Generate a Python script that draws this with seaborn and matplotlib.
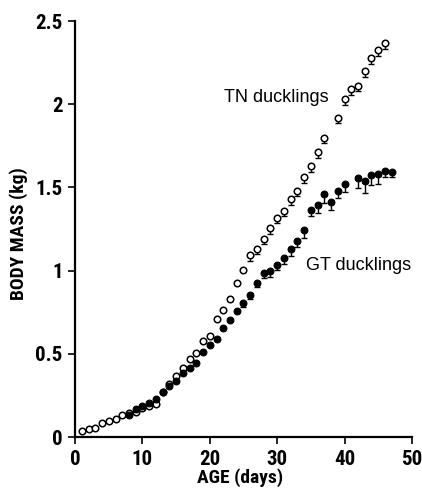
import numpy as np
import pandas as pd
import matplotlib
matplotlib.use("Agg")
import matplotlib.pyplot as plt
from matplotlib import font_manager
import seaborn as sns

# ---- data ----
tn_age = [1, 2, 3, 4, 5, 6, 7, 8, 9, 10, 11, 12, 13, 14, 15, 16, 17, 18, 19, 20,
          21, 22, 23, 24, 25, 26, 27, 28, 29, 30, 31, 32, 33, 34, 35, 36, 37, 39,
          40, 41, 42, 43, 44, 45, 46]
tn_mass = [0.037, 0.046, 0.057, 0.082, 0.095, 0.110, 0.132, 0.144, 0.152, 0.172,
           0.186, 0.200, 0.272, 0.318, 0.366, 0.416, 0.468, 0.507, 0.576, 0.605,
           0.709, 0.761, 0.830, 0.924, 1.006, 1.094, 1.132, 1.188, 1.256, 1.314,
           1.358, 1.429, 1.480, 1.564, 1.629, 1.713, 1.800, 1.920, 2.030, 2.093,
           2.112, 2.200, 2.278, 2.328, 2.370]
tn_err = [0.0] * 25 + [0.035, 0.03, 0.03, 0.035, 0.03, 0.03, 0.035, 0.03, 0.035,
                       0.035, 0.035, 0.035, 0.035, 0.035, 0.035, 0.035, 0.035,
                       0.035, 0.035, 0.035]

gt_age = [8, 9, 10, 11, 12, 13, 14, 15, 16, 17, 18, 19, 20, 21, 22, 23, 24, 25, 26,
          27, 28, 29, 30, 31, 32, 33, 34, 35, 36, 37, 38, 39, 40, 42, 43, 44, 45,
          46, 47]
gt_mass = [0.132, 0.166, 0.184, 0.206, 0.227, 0.268, 0.305, 0.337, 0.383, 0.417,
           0.447, 0.511, 0.553, 0.591, 0.655, 0.701, 0.760, 0.808, 0.852, 0.924,
           0.984, 0.997, 1.034, 1.076, 1.128, 1.180, 1.246, 1.366, 1.396, 1.458,
           1.414, 1.478, 1.519, 1.558, 1.538, 1.572, 1.580, 1.600, 1.595]
gt_err = [0.0] * 17 + [0.025, 0.025, 0.02, 0.03, 0.036, 0.03, 0.034, 0.04, 0.04,
                       0.05, 0.04, 0.05, 0.05, 0.05, 0.04, 0.048, 0.064, 0.07,
                       0.056, 0.062, 0.036, 0.034]

x_ticks = [0, 10, 20, 30, 40, 50]
y_ticks = [0, 0.5, 1, 1.5, 2, 2.5]
y_ticklabels = ["0", "0.5", "1", "1.5", "2", "2.5"]

# ---- style ----
sns.set_style("ticks")
names = {f.name for f in font_manager.fontManager.ttflist}
cond = "DejaVu Sans"
for cand in ("Roboto Condensed", "Archivo Narrow", "PT Sans Narrow", "Oswald",
             "Liberation Sans"):
    if cand in names:
        cond = cand
        break
plt.rcParams["font.family"] = ["Liberation Sans", "DejaVu Sans"]
for k in ("text.color", "axes.labelcolor", "xtick.color", "ytick.color",
          "axes.edgecolor"):
    plt.rcParams[k] = "black"

fig = plt.figure(figsize=(4.22, 4.90), dpi=100)
ax = fig.add_axes([0.178, 0.108, 0.798, 0.849])

tn = pd.DataFrame({"age": tn_age, "mass": tn_mass, "err": tn_err})
gt = pd.DataFrame({"age": gt_age, "mass": gt_mass, "err": gt_err})

for df in (tn, gt):
    m = df["err"] > 0
    ax.errorbar(df.loc[m, "age"], df.loc[m, "mass"],
                yerr=[df.loc[m, "err"], np.zeros(m.sum())],
                fmt="none", ecolor="black", elinewidth=1.0, capsize=2.3,
                capthick=1.0, zorder=2)

sns.scatterplot(data=tn, x="age", y="mass", ax=ax, marker="o", s=22,
                facecolor="white", edgecolor="black", linewidth=1.1, zorder=3)
sns.scatterplot(data=gt, x="age", y="mass", ax=ax, marker="o", s=24,
                color="black", edgecolor="black", linewidth=0.8, zorder=4)

ax.set_xlim(0, 50)
ax.set_ylim(0, 2.5)
ax.set_xticks(x_ticks)
ax.set_yticks(y_ticks)
ax.set_yticklabels(y_ticklabels)
for lab in ax.get_xticklabels() + ax.get_yticklabels():
    lab.set_fontfamily(cond)
    lab.set_fontweight("bold")
    lab.set_fontsize(15)
ax.tick_params(axis="both", direction="out", length=5, width=1.2, color="black",
               pad=4)
for sp in ("top", "right"):
    ax.spines[sp].set_visible(False)
for sp in ("left", "bottom"):
    ax.spines[sp].set_linewidth(1.6)
    ax.spines[sp].set_color("black")

ax.set_xlabel("AGE (days)", fontfamily=cond, fontweight="bold", fontsize=14)
ax.set_ylabel("BODY MASS (kg)", fontfamily=cond, fontweight="bold", fontsize=14)
ax.xaxis.set_label_coords(0.49, -0.075)
ax.yaxis.set_label_coords(-0.14, 0.49)

ax.text(29.8, 2.04, "TN ducklings", fontsize=13, ha="center", va="center")
ax.text(42.1, 1.03, "GT ducklings", fontsize=13, ha="center", va="center")

fig.savefig("out.png", dpi=100)
